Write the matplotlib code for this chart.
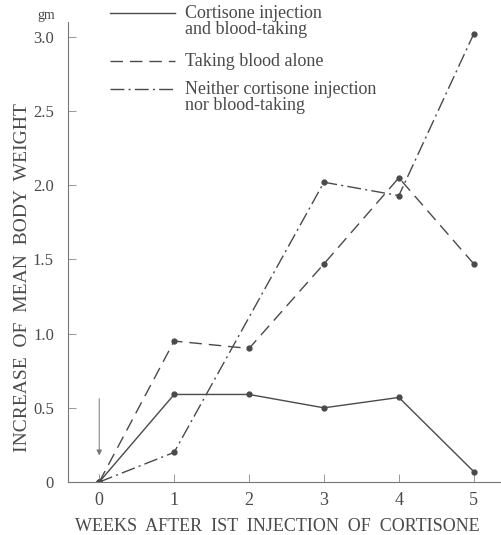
import matplotlib
matplotlib.use('Agg')
from matplotlib import pyplot as plt

weeks = [0, 1, 2, 3, 4, 5]
cortisone_blood = [0, 0.59, 0.59, 0.50, 0.57, 0.07]
blood_alone = [0, 0.95, 0.90, 1.47, 2.05, 1.47]
# the 'neither' curve has no point at week 2 in the figure
neither_weeks = [0, 1, 3, 4, 5]
neither = [0, 0.20, 2.02, 1.93, 3.02]

yticks = [0, 0.5, 1.0, 1.5, 2.0, 2.5, 3.0]
yticklabels = ['0', '0.5', '1.0', '1.5', '2.0', '2.5', '3.0']

ink = '#4a4a4a'
plt.rcParams['font.family'] = ['Liberation Serif', 'DejaVu Serif']

fig = plt.figure(figsize=(5.02, 5.35), dpi=100)
ax = fig.add_axes([0.135, 0.099, 0.861, 0.860])

ax.plot(weeks, cortisone_blood, '-', color=ink, lw=1.0, marker='o', ms=3.5)
ax.plot(weeks, blood_alone, color=ink, lw=1.0, marker='o', ms=3.5,
        dashes=(9, 5))
ax.plot(neither_weeks, neither, color=ink, lw=1.0, marker='o', ms=3.5,
        dashes=(10, 3, 1.5, 3))

ax.annotate('', xy=(0, 0.16), xytext=(0, 0.58),
            arrowprops=dict(arrowstyle='-|>', color='#777777', lw=0.7,
                            mutation_scale=8))

ax.set_xlim(-0.42, 5.35)
ax.set_ylim(0, 3.1)
ax.set_xticks(weeks)
ax.set_xticklabels([str(w) for w in weeks])
ax.set_yticks(yticks)
ax.set_yticklabels(yticklabels)
ax.tick_params(direction='in', length=6, width=0.6, colors='#888888',
               labelcolor=ink, labelsize=13)
ax.tick_params(axis='y', pad=10, labelsize=12)
ax.tick_params(axis='x', pad=7)
for s in ['top', 'right']:
    ax.spines[s].set_visible(False)
for s in ['left', 'bottom']:
    ax.spines[s].set_color('#777777')
    ax.spines[s].set_linewidth(0.8)

ax.set_xlabel('WEEKS  AFTER  IST  INJECTION  OF  CORTISONE', color=ink,
              fontsize=13)
ax.xaxis.set_label_coords((277 - 68) / 432, -(518 - 482) / 460)
ax.set_ylabel('INCREASE  OF  MEAN  BODY  WEIGHT', color=ink, fontsize=14)
ax.yaxis.set_label_coords(-(68 - 31) / 432, (482 - 278) / 460)
fig.text(46 / 502, 1 - 15 / 535, 'gm', ha='center', va='center',
         color=ink, fontsize=10)

# legend drawn by hand at top
leg = [('-', None, 13, ['Cortisone injection', 'and blood-taking']),
       ('--', (9, 5), 61, ['Taking blood alone']),
       ('-.', (10, 3, 1.5, 3), 89, ['Neither cortisone injection',
                                    'nor blood-taking'])]
for ls, dsh, ypix, lines in leg:
    yf = 1 - ypix / 535
    l = plt.Line2D([110 / 502, 175 / 502], [yf, yf], transform=fig.transFigure,
                   color=ink, lw=1.0)
    if dsh:
        l.set_dashes(dsh)
    fig.add_artist(l)
    for k, t in enumerate(lines):
        fig.text(185 / 502, 1 - (ypix + 16 * k) / 535, t, ha='left',
                 va='center', color=ink, fontsize=13)

fig.savefig('out.png', dpi=100)
